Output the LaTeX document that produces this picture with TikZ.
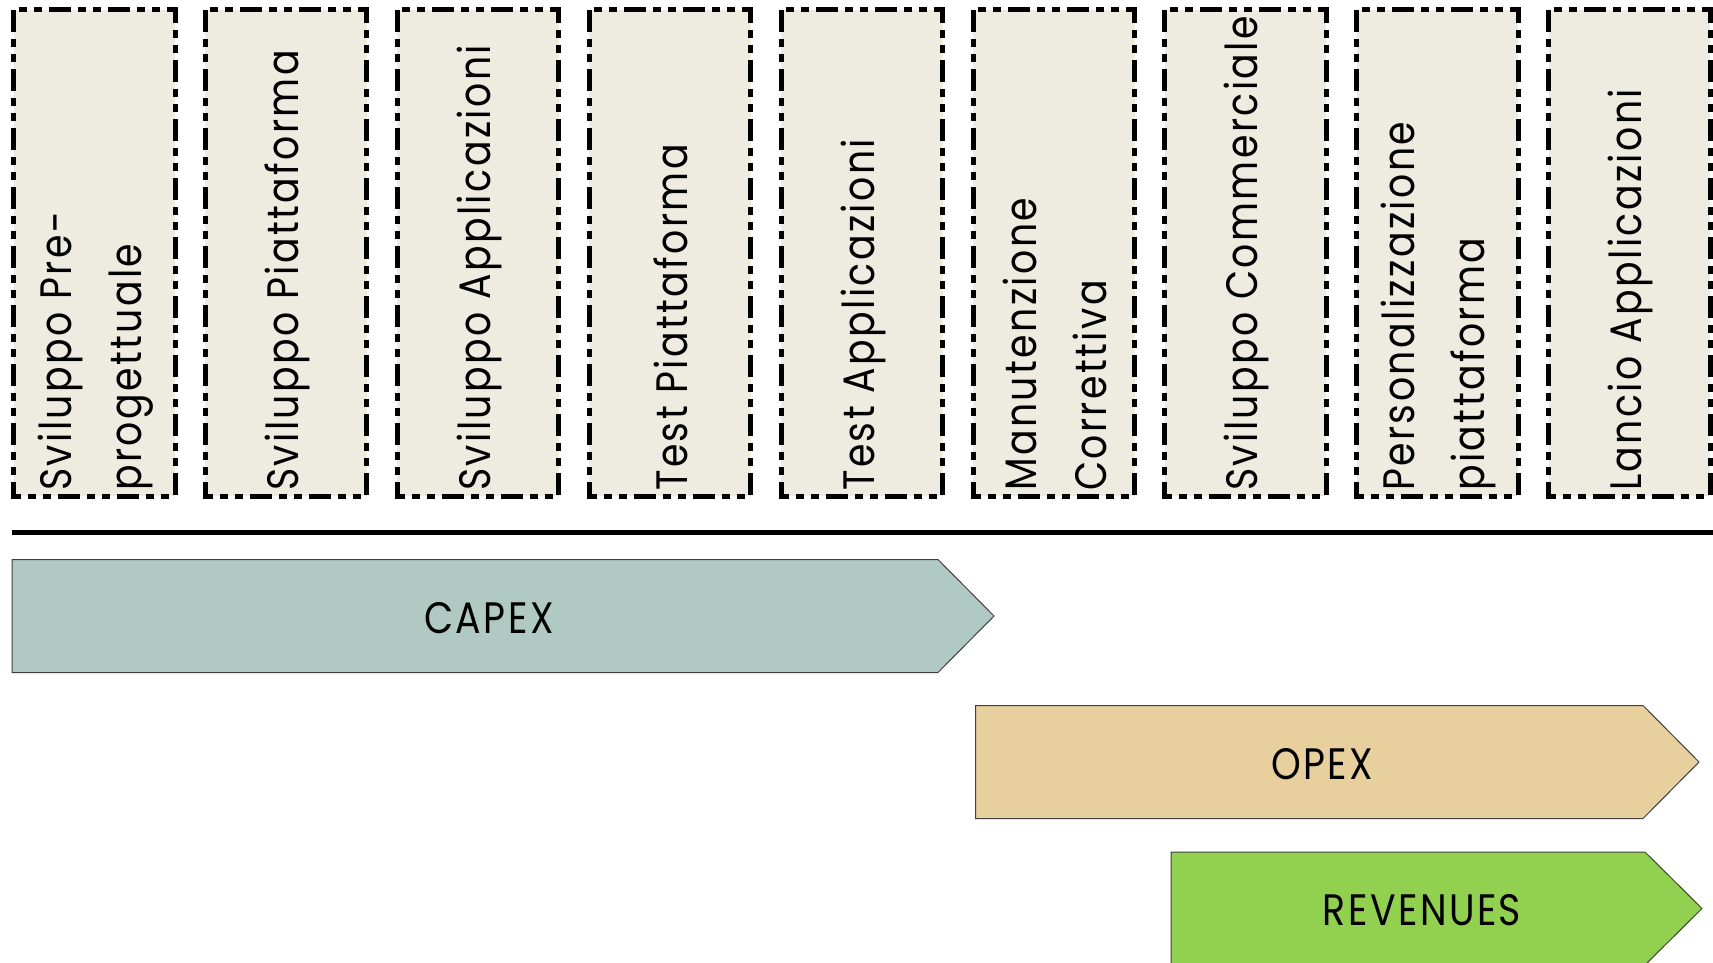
\documentclass[tikz,border=0pt]{standalone}
\usepackage{fontspec}
\setmainfont{Poppins}[FakeStretch=0.86, LetterSpace=5.5]
\definecolor{phasefill}{HTML}{EEECE1}
\definecolor{capexfill}{HTML}{B0CAC3}
\definecolor{opexfill}{HTML}{E8D09E}
\definecolor{revfill}{HTML}{92D050}
\definecolor{arrowline}{HTML}{404040}
\tikzset{
  phasebox/.style={draw=black, fill=phasefill, line width=5pt, line cap=butt,
    dash pattern=on 22pt off 7pt on 8pt off 7pt on 8pt off 7pt},
  phaselabel/.style={rotate=90, anchor=west, align=left, inner sep=0pt,
    font=\fontsize{44}{70}\selectfont},
  costarrow/.style={draw=arrowline, line width=1pt},
  costlabel/.style={inner sep=0pt, font=\fontsize{44}{52}\selectfont},
}
\begin{document}
\begin{tikzpicture}[x=1pt,y=-1pt]
\useasboundingbox (0,0) rectangle (1713,962);

% phase columns
\foreach \i/\txt in {0/{Sviluppo Pre-\\progettuale},
                     1/{Sviluppo Piattaforma},
                     2/{Sviluppo Applicazioni},
                     3/{Test Piattaforma},
                     4/{Test Applicazioni},
                     5/{Manutenzione\\Correttiva},
                     6/{Sviluppo Commerciale},
                     7/{Personalizzazione\\piattaforma},
                     8/{Lancio Applicazioni}}{
  \pgfmathsetmacro{\xl}{13.5+191.9*\i}
  \draw[phasebox] (\xl,9.5) rectangle ++(161.5,486.5);
  \node[phaselabel] (phase\i) at (\xl+82,491) {\txt};
}

% timeline separator
\coordinate (lineL) at (12,532.5);
\coordinate (lineR) at (1713,532.5);
\draw[line width=5pt] (lineL) -- (lineR);

% cost / revenue arrows
\fill[capexfill] (12,559.5) -- (938,559.5) -- (994,616) -- (938,672.5) -- (12,672.5) -- cycle;
\draw[costarrow] (12,559.5) -- (938,559.5) -- (994,616) -- (938,672.5) -- (12,672.5) -- cycle;
\node[costlabel] (capex) at (489,618) {CAPEX};

\fill[opexfill] (975.5,705.5) -- (1643,705.5) -- (1699,762) -- (1643,818.5) -- (975.5,818.5) -- cycle;
\draw[costarrow] (975.5,705.5) -- (1643,705.5) -- (1699,762) -- (1643,818.5) -- (975.5,818.5) -- cycle;
\node[costlabel] (opex) at (1322,764) {OPEX};

\fill[revfill] (1171,852) -- (1645,852) -- (1702,908.5) -- (1645,965) -- (1171,965) -- cycle;
\draw[costarrow] (1171,852) -- (1645,852) -- (1702,908.5) -- (1645,965) -- (1171,965) -- cycle;
\node[costlabel] (revenues) at (1422,910) {REVENUES};
\end{tikzpicture}
\end{document}
